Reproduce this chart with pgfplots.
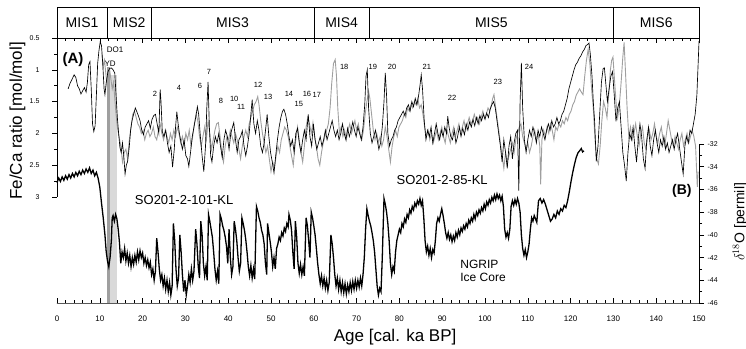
\documentclass[border=0pt]{standalone}
\usepackage{pgfplots}
\pgfplotsset{compat=1.18}
\usepackage{pgfplotstable}
\usepackage{fontspec}
\setmainfont{Liberation Sans}

% SO201-2-101-KL Fe/Ca (black thin)
\pgfplotstableread[row sep=\\]{
age v\\
2.6 1.30\\ 3.0 1.22\\ 3.5 1.15\\ 4.0 1.08\\ 4.4 1.12\\ 4.8 1.25\\ 5.2 1.30\\ 5.6 1.38\\ 6.0 1.33\\ 6.4 1.28\\
6.8 1.35\\ 7.1 1.20\\ 7.4 0.92\\ 7.7 0.87\\ 8.0 1.30\\ 8.3 1.85\\ 8.6 1.97\\ 8.9 1.88\\ 9.2 1.40\\ 9.5 0.90\\
9.8 0.70\\ 10.1 0.56\\ 10.4 0.62\\ 10.7 0.92\\ 11.0 1.30\\ 11.2 1.39\\ 11.5 1.20\\ 11.9 1.03\\ 12.3 0.98\\ 12.7 0.97\\
13.1 1.00\\ 13.5 1.05\\ 13.8 1.40\\ 14.1 1.75\\ 14.4 2.00\\ 14.7 2.22\\ 15.0 2.30\\ 15.3 2.15\\ 15.6 2.35\\ 15.9 2.64\\
16.2 2.50\\ 16.5 2.44\\ 16.9 2.20\\ 17.2 1.95\\ 17.5 1.81\\ 17.9 1.70\\ 18.3 1.60\\ 18.6 1.65\\ 19.0 1.72\\ 19.4 1.80\\
19.8 1.95\\ 20.2 2.02\\ 20.6 1.90\\ 21.0 1.85\\ 21.4 1.80\\ 21.8 1.92\\ 22.2 1.78\\ 22.6 1.72\\ 23.0 1.70\\ 23.4 1.85\\
23.8 2.00\\ 24.1 1.31\\ 24.3 1.50\\ 24.6 1.97\\ 25.0 2.05\\ 25.4 1.95\\ 25.8 2.15\\ 26.2 2.30\\ 26.6 2.20\\ 27.0 2.53\\
27.4 2.25\\ 27.7 1.90\\ 28.0 1.66\\ 28.3 1.85\\ 28.6 2.00\\ 29.0 2.15\\ 29.3 2.25\\ 29.7 2.10\\ 30.1 2.35\\ 30.5 2.40\\
30.8 2.52\\ 31.2 2.30\\ 31.6 2.05\\ 32.0 1.90\\ 32.4 1.75\\ 32.8 1.58\\ 33.1 1.70\\ 33.5 2.05\\ 33.9 2.35\\ 34.3 2.60\\
34.7 2.20\\ 35.0 1.60\\ 35.3 1.19\\ 35.6 1.90\\ 35.9 2.35\\ 36.2 2.45\\ 36.6 2.20\\ 37.0 2.05\\ 37.4 2.15\\ 37.8 2.00\\
38.2 2.20\\ 38.6 2.38\\ 39.0 2.10\\ 39.4 1.95\\ 39.8 2.05\\ 40.2 2.25\\ 40.6 2.00\\ 41.0 1.90\\ 41.3 1.83\\ 41.7 2.10\\
42.1 2.30\\ 42.5 2.10\\ 42.9 2.05\\ 43.3 1.96\\ 43.7 2.20\\ 44.1 2.35\\ 44.5 2.20\\ 44.9 2.00\\ 45.3 1.70\\ 45.6 1.47\\
46.0 1.85\\ 46.4 2.00\\ 46.8 1.80\\ 47.2 1.95\\ 47.6 2.20\\ 48.0 2.30\\ 48.4 2.15\\ 48.8 1.90\\ 49.1 1.70\\ 49.5 2.05\\
49.9 2.30\\ 50.3 2.45\\ 50.7 2.62\\ 51.1 2.35\\ 51.5 2.10\\ 51.9 1.90\\ 52.3 1.75\\ 52.7 1.65\\ 53.0 1.62\\ 53.4 1.70\\
53.8 1.85\\ 54.2 2.05\\ 54.6 2.20\\ 55.0 2.10\\ 55.4 2.30\\ 55.8 2.00\\ 56.2 1.92\\ 56.6 2.15\\ 57.0 2.30\\ 57.4 2.10\\
57.8 1.95\\ 58.2 2.10\\ 58.7 1.70\\ 59.1 2.05\\ 59.5 2.20\\ 59.9 1.85\\ 60.3 2.10\\ 60.7 2.25\\ 61.1 2.15\\ 61.5 2.05\\
61.9 2.20\\ 62.3 2.10\\ 62.7 1.95\\ 63.1 2.10\\ 63.5 2.00\\ 63.9 1.90\\ 64.3 1.80\\ 64.7 1.95\\ 65.1 2.05\\ 65.5 1.95\\
65.9 2.10\\ 66.3 2.00\\ 66.7 1.85\\ 67.1 2.00\\ 67.5 2.10\\ 67.9 1.92\\ 68.3 2.05\\ 68.7 1.95\\ 69.1 1.82\\ 69.5 1.95\\
69.9 2.05\\ 70.3 1.90\\ 70.7 2.00\\ 71.1 2.10\\ 71.5 1.90\\ 71.9 1.55\\ 72.2 1.10\\ 72.5 1.00\\ 72.8 1.60\\ 73.2 2.00\\
73.6 2.15\\ 74.0 2.05\\ 74.4 1.95\\ 74.8 2.10\\ 75.2 2.25\\ 75.6 2.15\\ 76.0 1.90\\ 76.4 1.50\\ 76.7 1.05\\ 77.0 1.40\\
77.3 2.00\\ 77.7 2.20\\ 78.1 2.10\\ 78.5 2.05\\ 78.9 1.95\\ 79.3 1.90\\ 79.7 1.80\\ 80.1 1.75\\ 80.5 1.70\\ 80.9 1.65\\
81.3 1.72\\ 81.7 1.60\\ 82.1 1.55\\ 82.5 1.65\\ 82.9 1.50\\ 83.3 1.58\\ 83.7 1.45\\ 84.1 1.55\\ 84.5 1.40\\ 84.8 1.25\\
85.1 1.08\\ 85.4 1.30\\ 85.8 1.80\\ 86.2 2.10\\ 86.6 1.95\\ 87.0 2.05\\ 87.4 1.90\\ 87.8 2.15\\ 88.2 2.00\\ 88.6 1.85\\
89.0 2.00\\ 89.4 2.10\\ 89.8 1.95\\ 90.2 2.05\\ 90.6 1.90\\ 91.0 2.00\\ 91.3 1.73\\ 91.6 1.90\\ 92.0 2.05\\ 92.4 2.10\\
92.8 1.95\\ 93.2 2.15\\ 93.6 2.05\\ 94.0 1.90\\ 94.4 2.05\\ 94.8 1.92\\ 95.2 2.02\\ 95.6 1.85\\ 96.0 1.95\\ 96.4 1.82\\
96.8 1.90\\ 97.2 1.78\\ 97.6 1.88\\ 98.0 1.75\\ 98.4 1.85\\ 98.8 1.72\\ 99.2 1.80\\ 99.6 1.70\\ 100.0 1.78\\ 100.4 1.68\\
100.8 1.75\\ 101.2 1.62\\ 101.6 1.55\\ 102.0 1.50\\ 102.4 1.60\\ 102.8 1.80\\ 103.2 2.00\\ 103.6 2.20\\ 104.0 2.45\\ 104.4 2.10\\
104.8 2.30\\ 105.2 2.55\\ 105.6 2.20\\ 106.0 2.05\\ 106.4 2.40\\ 106.8 2.15\\ 107.2 2.00\\ 107.6 1.95\\ 107.9 2.90\\ 108.2 1.50\\
108.5 0.89\\ 108.8 1.60\\ 109.2 2.10\\ 109.6 2.30\\ 110.0 2.10\\ 110.4 1.95\\ 110.8 2.05\\ 111.2 1.90\\ 111.6 2.00\\ 112.0 2.15\\
112.4 1.95\\ 112.8 2.05\\ 113.2 1.90\\ 113.6 2.00\\ 114.0 2.10\\ 114.4 1.95\\ 114.8 1.85\\ 115.2 1.95\\ 115.6 1.80\\ 116.0 1.90\\
116.4 1.85\\ 116.8 1.75\\ 117.2 1.85\\ 117.6 1.80\\ 118.0 1.70\\ 118.4 1.65\\ 118.8 1.55\\ 119.2 1.45\\ 119.6 1.30\\ 120.0 1.20\\
120.4 1.10\\ 120.8 1.00\\ 121.2 0.92\\ 121.6 0.88\\ 122.0 0.82\\ 122.4 0.78\\ 122.8 0.72\\ 123.2 0.68\\ 123.6 0.62\\ 124.0 0.60\\
124.3 0.58\\ 124.6 0.75\\ 125.0 1.10\\ 125.3 1.50\\ 125.6 1.80\\ 126.0 2.44\\ 126.4 2.20\\ 126.8 1.70\\ 127.2 1.20\\ 127.6 0.98\\
127.9 0.97\\ 128.2 1.20\\ 128.6 1.50\\ 129.0 1.30\\ 129.4 1.10\\ 129.8 1.03\\ 130.2 1.40\\ 130.6 1.81\\ 131.0 1.60\\ 131.4 1.50\\
131.8 1.90\\ 132.2 2.30\\ 132.6 2.50\\ 133.0 2.75\\ 133.4 2.30\\ 133.8 2.00\\ 134.2 2.10\\ 134.6 1.90\\ 135.0 2.20\\ 135.4 2.45\\
135.8 2.10\\ 136.2 1.85\\ 136.6 2.05\\ 137.0 2.40\\ 137.4 2.55\\ 137.8 2.10\\ 138.2 1.90\\ 138.6 2.20\\ 139.0 2.35\\ 139.4 2.10\\
139.8 1.95\\ 140.2 2.15\\ 140.6 2.30\\ 141.0 2.10\\ 141.4 2.20\\ 141.8 2.05\\ 142.2 2.25\\ 142.6 2.15\\ 143.0 2.30\\ 143.4 2.20\\
143.8 2.10\\ 144.2 2.25\\ 144.6 2.10\\ 145.0 2.00\\ 145.4 2.20\\ 145.8 2.40\\ 146.3 2.64\\ 146.7 2.20\\ 147.1 2.05\\ 147.5 2.15\\
147.9 1.95\\ 148.3 2.00\\ 148.7 1.85\\ 149.1 1.70\\ 149.5 1.40\\ 149.8 0.90\\ 150.0 0.55\\
}\feblack

% SO201-2-85-KL Fe/Ca (grey)
\pgfplotstableread[row sep=\\]{
age v\\
10.5 0.75\\ 10.8 0.95\\ 11.1 0.85\\ 11.4 1.05\\ 11.7 1.25\\ 12.0 1.10\\ 12.3 1.00\\ 12.6 1.15\\ 12.9 1.30\\ 13.2 1.20\\
13.5 1.45\\ 13.8 1.70\\ 14.1 1.90\\ 14.5 2.05\\ 14.9 2.20\\ 15.3 2.45\\ 15.7 2.30\\ 16.1 2.25\\ 16.5 2.40\\ 16.9 2.10\\
17.3 1.90\\ 17.7 1.70\\ 18.1 1.65\\ 18.5 1.75\\ 18.9 1.85\\ 19.3 1.90\\ 19.7 2.00\\ 20.1 1.95\\ 20.5 2.10\\ 20.9 2.00\\
21.3 1.95\\ 21.7 2.05\\ 22.1 2.00\\ 22.5 1.90\\ 22.9 2.05\\ 23.3 2.10\\ 23.7 1.95\\ 24.1 1.85\\ 24.5 2.00\\ 24.9 2.10\\
25.3 1.95\\ 25.7 2.05\\ 26.1 2.15\\ 26.5 2.00\\ 26.9 2.10\\ 27.3 1.95\\ 27.7 2.05\\ 28.1 1.90\\ 28.5 2.00\\ 28.9 2.15\\
29.3 2.05\\ 29.7 2.20\\ 30.1 2.00\\ 30.5 2.10\\ 30.9 1.95\\ 31.3 2.20\\ 31.7 2.05\\ 32.1 1.85\\ 32.5 1.70\\ 32.9 1.80\\
33.3 2.05\\ 33.7 2.20\\ 34.1 2.05\\ 34.5 1.90\\ 34.9 2.10\\ 35.3 1.80\\ 35.7 2.00\\ 36.1 2.25\\ 36.5 2.10\\ 36.9 1.95\\
37.3 1.85\\ 37.7 1.83\\ 38.1 2.05\\ 38.5 2.30\\ 38.9 2.45\\ 39.3 2.20\\ 39.7 2.05\\ 40.1 2.10\\ 40.5 1.95\\ 40.9 2.05\\
41.3 2.15\\ 41.7 2.00\\ 42.1 2.10\\ 42.5 2.25\\ 42.9 2.40\\ 43.3 2.20\\ 43.7 2.05\\ 44.1 1.95\\ 44.5 2.05\\ 44.9 1.85\\
45.3 1.75\\ 45.7 1.65\\ 46.1 1.55\\ 46.5 1.50\\ 46.9 1.42\\ 47.2 1.55\\ 47.6 1.80\\ 48.0 2.00\\ 48.4 2.15\\ 48.8 2.30\\
49.2 2.20\\ 49.6 2.40\\ 50.0 2.60\\ 50.4 2.45\\ 50.8 2.55\\ 51.2 2.35\\ 51.6 2.20\\ 52.0 2.30\\ 52.4 2.10\\ 52.8 2.00\\
53.2 1.90\\ 53.6 1.95\\ 54.0 2.05\\ 54.4 2.20\\ 54.8 2.35\\ 55.2 2.50\\ 55.6 2.20\\ 56.0 2.00\\ 56.2 1.90\\ 56.6 2.10\\
57.0 2.30\\ 57.4 2.45\\ 57.8 2.20\\ 58.2 1.90\\ 58.6 1.75\\ 59.0 1.85\\ 59.4 2.00\\ 59.8 1.83\\ 60.2 2.05\\ 60.6 2.20\\
61.0 2.40\\ 61.4 2.50\\ 61.8 2.30\\ 62.2 2.15\\ 62.6 2.05\\ 63.0 1.95\\ 63.4 1.85\\ 63.8 1.60\\ 64.2 1.20\\ 64.6 0.90\\
65.0 0.84\\ 65.3 1.10\\ 65.6 1.60\\ 66.0 2.00\\ 66.4 1.90\\ 66.8 2.05\\ 67.2 1.95\\ 67.6 2.10\\ 68.0 1.95\\ 68.4 1.85\\
68.8 2.00\\ 69.2 1.90\\ 69.6 1.80\\ 70.0 1.95\\ 70.4 1.85\\ 70.8 2.00\\ 71.2 2.10\\ 71.6 1.95\\ 72.0 1.70\\ 72.4 1.50\\
72.8 1.34\\ 73.1 1.45\\ 73.5 1.70\\ 73.9 1.95\\ 74.3 2.10\\ 74.7 2.00\\ 75.1 2.15\\ 75.5 2.05\\ 75.9 2.20\\ 76.3 2.10\\
76.7 1.90\\ 77.1 2.05\\ 77.5 2.25\\ 77.9 2.45\\ 78.3 2.20\\ 78.7 2.05\\ 79.1 1.95\\ 79.5 2.05\\ 79.9 1.90\\ 80.3 1.85\\
80.7 1.80\\ 81.1 1.70\\ 81.5 1.75\\ 81.9 1.60\\ 82.3 1.65\\ 82.7 1.55\\ 83.1 1.60\\ 83.5 1.50\\ 83.9 1.55\\ 84.3 1.45\\
84.7 1.60\\ 85.1 1.55\\ 85.5 1.70\\ 85.9 1.90\\ 86.3 2.05\\ 86.7 1.95\\ 87.1 2.10\\ 87.5 2.00\\ 87.9 2.15\\ 88.3 2.05\\
88.7 1.95\\ 89.1 2.10\\ 89.5 2.00\\ 89.9 1.90\\ 90.3 2.05\\ 90.7 2.15\\ 91.1 1.95\\ 91.5 2.05\\ 91.9 2.15\\ 92.3 2.00\\
92.7 1.90\\ 93.1 2.05\\ 93.5 1.95\\ 93.9 1.85\\ 94.3 2.00\\ 94.7 1.90\\ 95.1 1.80\\ 95.5 1.95\\ 95.9 1.85\\ 96.3 1.75\\
96.7 1.85\\ 97.1 1.80\\ 97.5 1.70\\ 97.9 1.80\\ 98.3 1.75\\ 98.7 1.85\\ 99.1 1.75\\ 99.5 1.65\\ 99.9 1.75\\ 100.3 1.70\\
100.7 1.60\\ 101.1 1.65\\ 101.5 1.55\\ 101.8 1.45\\ 102.1 1.39\\ 102.4 1.55\\ 102.8 1.75\\ 103.2 1.95\\ 103.6 2.15\\ 104.0 2.35\\
104.4 2.55\\ 104.8 2.30\\ 105.2 2.45\\ 105.6 2.35\\ 106.0 2.25\\ 106.4 2.15\\ 106.8 2.30\\ 107.2 2.10\\ 107.6 2.00\\ 108.0 1.90\\
108.4 1.85\\ 108.8 2.05\\ 109.2 2.15\\ 109.6 2.25\\ 110.0 2.15\\ 110.4 2.30\\ 110.8 2.20\\ 111.2 2.05\\ 111.6 1.95\\ 112.0 2.10\\
112.4 2.00\\ 112.8 2.20\\ 113.0 2.80\\ 113.3 2.10\\ 113.7 1.95\\ 114.1 2.05\\ 114.5 1.90\\ 114.9 2.00\\ 115.3 1.85\\ 115.7 1.95\\
116.1 2.10\\ 116.5 1.90\\ 116.9 1.95\\ 117.3 1.85\\ 117.7 1.90\\ 118.1 1.80\\ 118.5 1.85\\ 118.9 1.75\\ 119.3 1.80\\ 119.7 1.70\\
120.1 1.65\\ 120.5 1.55\\ 120.9 1.50\\ 121.3 1.40\\ 121.7 1.35\\ 122.1 1.30\\ 122.5 1.35\\ 122.9 1.39\\ 123.3 1.10\\ 123.7 0.85\\
124.1 0.68\\ 124.5 0.90\\ 124.9 1.30\\ 125.3 1.60\\ 125.7 2.10\\ 126.1 2.40\\ 126.5 2.48\\ 126.9 2.20\\ 127.3 1.80\\ 127.7 1.50\\
128.1 1.60\\ 128.5 1.75\\ 128.9 1.40\\ 129.3 1.00\\ 129.6 0.85\\ 129.9 0.80\\ 130.2 1.10\\ 130.6 1.50\\ 131.0 1.75\\ 131.4 1.55\\
131.8 1.20\\ 132.2 0.80\\ 132.5 0.57\\ 132.8 1.00\\ 133.2 1.60\\ 133.6 2.05\\ 134.0 1.90\\ 134.4 2.10\\ 134.8 2.00\\ 135.2 1.85\\
135.6 2.05\\ 136.0 2.20\\ 136.4 2.00\\ 136.8 1.90\\ 137.2 2.15\\ 137.6 2.25\\ 138.0 2.05\\ 138.4 1.95\\ 138.8 2.10\\ 139.2 2.00\\
139.6 1.85\\ 140.0 2.05\\ 140.4 2.15\\ 140.8 2.00\\ 141.2 1.90\\ 141.6 2.10\\ 142.0 2.20\\ 142.4 2.00\\ 142.8 1.80\\ 143.2 1.95\\
143.6 2.10\\ 144.0 2.20\\ 144.4 2.05\\ 144.8 2.15\\ 145.2 2.25\\ 145.6 2.10\\ 146.0 2.00\\ 146.4 2.20\\ 146.8 2.10\\ 147.2 2.00\\
147.6 2.15\\ 148.0 2.05\\ 148.4 1.95\\ 148.8 2.05\\ 149.2 2.20\\ 149.6 2.84\\ 149.8 2.60\\
}\fegrey

% NGRIP delta 18O
\pgfplotstableread[row sep=\\]{
age v\\
0.0 -35.4\\ 0.4 -35.0\\ 0.8 -35.3\\ 1.2 -34.9\\ 1.6 -35.2\\ 2.0 -34.8\\ 2.4 -35.1\\ 2.8 -34.7\\ 3.2 -35.0\\ 3.6 -34.6\\
4.0 -34.9\\ 4.4 -34.5\\ 4.8 -34.8\\ 5.2 -34.4\\ 5.6 -34.7\\ 6.0 -34.3\\ 6.4 -34.6\\ 6.8 -34.2\\ 7.2 -34.5\\ 7.6 -34.1\\
8.0 -34.6\\ 8.4 -34.3\\ 8.8 -34.8\\ 9.2 -34.5\\ 9.6 -35.0\\ 10.0 -35.8\\ 10.4 -37.2\\ 10.8 -38.5\\ 11.2 -40.0\\ 11.5 -41.5\\
11.8 -42.3\\ 12.1 -42.8\\ 12.4 -42.0\\ 12.7 -40.5\\ 12.9 -38.5\\ 13.1 -38.3\\ 13.4 -38.8\\ 13.7 -38.2\\ 14.0 -38.6\\ 14.3 -39.5\\
14.6 -40.7\\ 14.9 -42.5\\ 15.2 -41.5\\ 15.5 -42.0\\ 15.8 -41.2\\ 16.1 -42.3\\ 16.4 -41.6\\ 16.7 -42.5\\ 17.0 -41.8\\ 17.3 -42.8\\
17.6 -42.0\\ 17.9 -42.6\\ 18.2 -41.8\\ 18.5 -42.4\\ 18.8 -41.5\\ 19.1 -42.2\\ 19.4 -41.4\\ 19.7 -42.0\\ 20.0 -41.6\\ 20.3 -42.5\\
20.6 -42.0\\ 20.9 -42.7\\ 21.2 -42.2\\ 21.5 -42.9\\ 21.8 -42.4\\ 22.1 -43.5\\ 22.4 -43.0\\ 22.7 -44.0\\ 23.0 -43.2\\ 23.3 -40.3\\
23.6 -41.5\\ 23.9 -43.0\\ 24.2 -44.0\\ 24.5 -43.5\\ 24.8 -44.5\\ 25.1 -43.8\\ 25.4 -44.8\\ 25.7 -44.0\\ 26.0 -45.0\\ 26.3 -44.2\\
26.6 -45.3\\ 26.9 -44.5\\ 27.2 -39.0\\ 27.5 -40.5\\ 27.8 -43.0\\ 28.1 -44.5\\ 28.4 -43.8\\ 28.7 -40.0\\ 29.0 -41.5\\ 29.3 -43.5\\
29.6 -45.0\\ 29.9 -44.0\\ 30.2 -45.3\\ 30.5 -44.5\\ 30.8 -43.5\\ 31.1 -44.2\\ 31.4 -43.0\\ 31.7 -44.0\\ 32.0 -43.2\\ 32.4 -39.5\\
32.7 -40.8\\ 33.0 -42.8\\ 33.3 -43.8\\ 33.6 -38.8\\ 33.9 -40.0\\ 34.2 -42.5\\ 34.5 -43.6\\ 34.8 -42.8\\ 35.1 -44.0\\ 35.4 -38.2\\
35.7 -38.8\\ 36.0 -39.5\\ 36.3 -40.2\\ 36.6 -41.5\\ 36.9 -43.0\\ 37.2 -44.0\\ 37.5 -43.2\\ 37.8 -44.3\\ 38.1 -38.2\\ 38.4 -38.6\\
38.7 -39.2\\ 39.0 -39.6\\ 39.3 -40.2\\ 39.6 -41.0\\ 39.9 -42.5\\ 40.2 -39.5\\ 40.5 -42.0\\ 40.8 -43.5\\ 41.1 -42.8\\ 41.4 -38.8\\
41.7 -39.5\\ 42.0 -40.5\\ 42.3 -42.0\\ 42.6 -43.2\\ 42.9 -42.5\\ 43.2 -38.5\\ 43.5 -39.0\\ 43.8 -39.6\\ 44.1 -40.4\\ 44.4 -41.5\\
44.7 -42.8\\ 45.0 -43.6\\ 45.3 -42.7\\ 45.6 -43.8\\ 45.9 -43.0\\ 46.2 -43.9\\ 46.6 -37.5\\ 46.9 -37.9\\ 47.2 -38.5\\ 47.5 -38.9\\
47.8 -39.6\\ 48.1 -40.0\\ 48.4 -40.8\\ 48.7 -42.5\\ 49.0 -43.5\\ 49.2 -39.0\\ 49.5 -39.8\\ 49.8 -40.6\\ 50.1 -41.5\\ 50.4 -42.8\\
50.7 -42.0\\ 51.0 -43.0\\ 51.3 -41.2\\ 51.6 -40.8\\ 51.9 -40.2\\ 52.2 -40.5\\ 52.5 -39.8\\ 52.8 -40.1\\ 53.1 -39.4\\ 53.4 -39.7\\
53.7 -39.0\\ 54.0 -39.3\\ 54.2 -38.2\\ 54.5 -38.7\\ 54.8 -39.6\\ 55.1 -41.5\\ 55.4 -43.0\\ 55.7 -38.8\\ 56.0 -40.2\\ 56.3 -42.5\\
56.6 -43.4\\ 56.9 -42.6\\ 57.2 -43.5\\ 57.5 -42.8\\ 57.8 -43.6\\ 58.2 -38.5\\ 58.5 -39.2\\ 58.8 -40.5\\ 59.1 -42.0\\ 59.4 -38.0\\
59.7 -38.5\\ 60.0 -39.2\\ 60.3 -40.0\\ 60.6 -41.2\\ 60.9 -42.5\\ 61.2 -43.5\\ 61.5 -44.3\\ 61.8 -43.6\\ 62.1 -44.5\\ 62.4 -43.8\\
62.7 -44.7\\ 63.0 -44.0\\ 63.3 -44.9\\ 63.6 -44.2\\ 64.0 -40.0\\ 64.3 -40.8\\ 64.6 -42.0\\ 64.9 -43.5\\ 65.2 -44.5\\ 65.5 -43.8\\
65.8 -44.8\\ 66.1 -44.0\\ 66.4 -45.0\\ 66.7 -44.2\\ 67.0 -45.1\\ 67.3 -44.3\\ 67.6 -45.2\\ 67.9 -44.4\\ 68.2 -45.0\\ 68.5 -44.2\\
68.8 -44.9\\ 69.1 -44.1\\ 69.4 -44.8\\ 69.7 -44.0\\ 70.0 -44.7\\ 70.3 -44.0\\ 70.6 -44.6\\ 70.9 -43.8\\ 71.2 -44.5\\ 71.5 -43.5\\
71.8 -42.0\\ 72.1 -39.5\\ 72.4 -37.7\\ 72.7 -38.3\\ 73.0 -38.8\\ 73.3 -39.2\\ 73.6 -39.8\\ 73.9 -40.5\\ 74.2 -41.5\\ 74.5 -43.0\\
74.8 -44.5\\ 75.1 -45.3\\ 75.4 -44.7\\ 75.7 -45.0\\ 76.0 -42.0\\ 76.4 -36.8\\ 76.7 -37.3\\ 77.0 -38.0\\ 77.3 -39.0\\ 77.6 -40.5\\
77.9 -42.5\\ 78.2 -43.5\\ 78.5 -42.8\\ 78.8 -43.2\\ 79.1 -41.5\\ 79.4 -40.5\\ 79.7 -40.0\\ 80.0 -39.5\\ 80.3 -39.8\\ 80.6 -39.0\\
80.9 -39.3\\ 81.2 -38.6\\ 81.5 -38.9\\ 81.8 -38.2\\ 82.1 -38.5\\ 82.4 -37.8\\ 82.7 -38.1\\ 83.0 -37.5\\ 83.3 -37.8\\ 83.6 -37.2\\
83.9 -37.5\\ 84.2 -37.0\\ 84.5 -37.3\\ 84.8 -36.8\\ 85.1 -37.4\\ 85.4 -37.0\\ 85.7 -38.5\\ 86.0 -40.5\\ 86.3 -41.5\\ 86.6 -41.0\\
86.9 -41.8\\ 87.2 -41.2\\ 87.5 -42.0\\ 87.8 -41.3\\ 88.1 -41.6\\ 88.4 -40.5\\ 88.7 -39.0\\ 89.0 -38.5\\ 89.3 -38.8\\ 89.6 -38.2\\
89.9 -37.7\\ 90.2 -38.3\\ 90.5 -39.0\\ 90.8 -39.8\\ 91.1 -40.3\\ 91.4 -39.8\\ 91.7 -40.4\\ 92.0 -40.0\\ 92.3 -40.6\\ 92.6 -40.1\\
92.9 -40.5\\ 93.2 -39.8\\ 93.5 -40.2\\ 93.8 -39.6\\ 94.1 -40.0\\ 94.4 -39.4\\ 94.7 -39.7\\ 95.0 -39.2\\ 95.3 -39.5\\ 95.6 -39.0\\
95.9 -39.3\\ 96.2 -38.7\\ 96.5 -39.0\\ 96.8 -38.5\\ 97.1 -38.8\\ 97.4 -38.2\\ 97.7 -38.6\\ 98.0 -38.0\\ 98.3 -38.3\\ 98.6 -37.8\\
98.9 -38.1\\ 99.2 -37.6\\ 99.5 -37.9\\ 99.8 -37.3\\ 100.1 -37.7\\ 100.4 -37.1\\ 100.7 -37.4\\ 101.0 -36.9\\ 101.3 -37.2\\ 101.6 -36.7\\
101.9 -37.0\\ 102.2 -36.5\\ 102.5 -36.9\\ 102.8 -36.4\\ 103.1 -36.8\\ 103.4 -36.5\\ 103.7 -37.0\\ 104.0 -36.6\\ 104.3 -37.5\\ 104.6 -39.5\\
104.9 -40.2\\ 105.2 -39.8\\ 105.5 -40.3\\ 105.8 -39.5\\ 106.1 -37.5\\ 106.4 -37.0\\ 106.7 -37.4\\ 107.0 -36.9\\ 107.3 -37.3\\ 107.6 -36.8\\
107.9 -37.2\\ 108.2 -38.0\\ 108.5 -40.0\\ 108.8 -41.2\\ 109.1 -41.8\\ 109.4 -41.3\\ 109.7 -42.0\\ 110.0 -41.5\\ 110.3 -40.8\\ 110.6 -39.5\\
110.9 -38.5\\ 111.2 -38.8\\ 111.5 -38.3\\ 111.8 -38.6\\ 112.1 -38.9\\ 112.5 -37.0\\ 112.9 -36.8\\ 113.3 -37.2\\ 113.7 -36.9\\ 114.1 -37.3\\
114.5 -37.8\\ 114.9 -38.3\\ 115.3 -38.8\\ 115.7 -38.6\\ 116.1 -38.2\\ 116.5 -38.5\\ 116.9 -37.9\\ 117.3 -38.2\\ 117.7 -37.7\\ 118.1 -37.9\\
118.5 -37.4\\ 118.9 -37.6\\ 119.3 -37.0\\ 119.7 -36.2\\ 120.1 -35.3\\ 120.5 -34.5\\ 120.9 -33.8\\ 121.3 -33.2\\ 121.7 -32.8\\ 122.1 -32.6\\
122.5 -32.4\\ 122.8 -32.7\\ 123.1 -32.6\\
}\ngrip

\pgfplotsset{
  base/.style={scale only axis, width=642pt, height=265pt, xmin=0, xmax=150,
    clip=false, at={(0,0)}, anchor=south west,
    /pgf/number format/assume math mode=true,
    major tick length=5pt, minor tick length=3pt,
    every tick/.style={black, line width=0.5pt}},
}

\newcommand{\tk}{\fontsize{7}{8}\selectfont}
\newcommand{\nb}[3]{\node[font=\fontsize{7.5}{8}\selectfont] at (axis cs:#1,#2) {#3};}
\newcommand{\mis}[2]{\node[font=\fontsize{14}{15}\selectfont] at ([yshift=15.5pt]axis cs:#1,1) {#2};}

\begin{document}
\begin{tikzpicture}
% Axis A: age axis, frame, MIS boxes, labels
\begin{axis}[base, ymin=0, ymax=1, hide y axis,
  xtick={0,10,...,150}, minor x tick num=4, xtick pos=both, xticklabel pos=lower,
  tick align=inside,
  xticklabel style={font=\fontsize{8}{9}\selectfont, yshift=-9pt},
  axis line style={line width=0.6pt}]
  \fill[gray!75] (axis cs:11.6,0) rectangle (axis cs:12.4,0.89);
  \fill[gray!30] (axis cs:12.4,0) rectangle (axis cs:14.0,0.86);
  \draw[line width=0.6pt] (axis cs:0,1) rectangle ([yshift=31pt]axis cs:150,1);
  \pgfplotsinvokeforeach{11.7,22,60,73,130}{
    \draw[line width=0.6pt] (axis cs:#1,1) -- ([yshift=31pt]axis cs:#1,1);}
  \mis{5.85}{MIS1} \mis{16.85}{MIS2} \mis{41}{MIS3} \mis{66.5}{MIS4} \mis{101.5}{MIS5} \mis{140}{MIS6}
  \node[font=\fontsize{15}{16}\selectfont\bfseries] at (axis cs:3.74,0.917) {(A)};
  \node[font=\fontsize{14}{15}\selectfont\bfseries] at (axis cs:146.0,0.423) {(B)};
  \node[font=\fontsize{8}{9}\selectfont] at (axis cs:13.55,0.955) {DO1};
  \node[font=\fontsize{8}{9}\selectfont] at (axis cs:12.4,0.902) {YD};
  \nb{22.9}{0.789}{2} \nb{28.5}{0.811}{4} \nb{33.4}{0.819}{6} \nb{35.5}{0.872}{7}
  \nb{38.3}{0.762}{8} \nb{41.4}{0.770}{10} \nb{43.0}{0.740}{11} \nb{47.0}{0.823}{12}
  \nb{49.3}{0.777}{13} \nb{54.2}{0.789}{14} \nb{56.5}{0.751}{15} \nb{58.4}{0.789}{16}
  \nb{60.7}{0.785}{17} \nb{67.1}{0.891}{18} \nb{73.8}{0.891}{19} \nb{78.3}{0.891}{20}
  \nb{86.4}{0.891}{21} \nb{92.3}{0.774}{22} \nb{103.0}{0.834}{23} \nb{110.3}{0.891}{24}
  \node[font=\fontsize{13}{14}\selectfont] at (axis cs:29.7,0.389) {SO201-2-101-KL};
  \node[font=\fontsize{13}{14}\selectfont] at (axis cs:90.0,0.464) {SO201-2-85-KL};
  \node[font=\fontsize{12}{13.5}\selectfont, align=left, anchor=west, inner sep=0pt] at (axis cs:94.2,0.122) {NGRIP\\Ice Core};
  \node[font=\fontsize{17}{18}\selectfont] at ([yshift=-34pt]axis cs:79,0) {Age [cal. ka BP]};
  \node[font=\fontsize{17}{18}\selectfont, rotate=90] at ([xshift=-39.5pt]axis cs:0,0.687) {Fe/Ca ratio [mol/mol]};
  \node[font=\fontsize{14}{15}\selectfont, rotate=90] at ([xshift=41pt]axis cs:150,0.306) {$\delta^{18}$O [permil]};
\end{axis}
% Axis B: Fe/Ca
\begin{axis}[base, ymin=0.5, ymax=4.667, y dir=reverse,
  axis x line=none, axis y line=left, y axis line style={draw=none},
  ytick={0.5,1,1.5,2,2.5,3}, minor y tick num=1, tick align=outside,
  yticklabel style={font=\tk, xshift=-9pt}]
  \draw[line width=0.6pt] (axis cs:0,0.5) -- (axis cs:0,3);
  \addplot[gray!75, line width=0.9pt] table[x=age, y=v] {\fegrey};
  \addplot[black, line width=0.65pt] table[x=age, y=v] {\feblack};
\end{axis}
% Axis C: NGRIP
\begin{axis}[base, ymin=-46, ymax=-22.67,
  axis x line=none, axis y line=right, y axis line style={draw=none},
  ytick={-46,-44,...,-32}, minor y tick num=1, tick align=outside,
  yticklabel style={font=\tk}]
  \draw[line width=0.6pt] (axis cs:150,-46) -- (axis cs:150,-32);
  \addplot[black, line width=1.3pt] table[x=age, y=v] {\ngrip};
\end{axis}
\pgfresetboundingbox
\path[use as bounding box] (-57pt,-45pt) rectangle (689pt,303pt);
\end{tikzpicture}
\end{document}
